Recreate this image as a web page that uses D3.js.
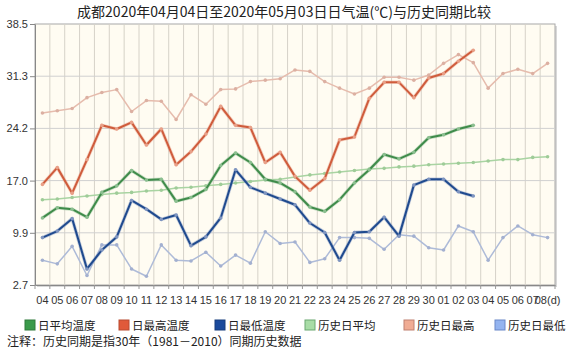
<!DOCTYPE html>
<html><head><meta charset="utf-8">
<script src="https://cdn.jsdelivr.net/npm/d3@7"></script>
<style>body{margin:0;background:#fff} svg{display:block}</style>
</head><body><svg id="c" width="584" height="358"></svg>
<script>
const categories = ["04-04","04-05","04-06","04-07","04-08","04-09","04-10","04-11","04-12","04-13","04-14","04-15","04-16","04-17","04-18","04-19","04-20","04-21","04-22","04-23","04-24","04-25","04-26","04-27","04-28","04-29","04-30","05-01","05-02","05-03","05-04","05-05","05-06","05-07","05-08"];
const tickLabels = ["04","05","06","07","08","09","10","11","12","13","14","15","16","17","18","19","20","21","22","23","24","25","26","27","28","29","30","01","02","03","04","05","06","07","08(d)"];
const yTicks = [2.7, 9.86, 17.02, 24.18, 31.34, 38.5];

const avgTemp = [11.9,13.3,13.1,12.0,15.4,16.3,18.4,17.1,17.2,14.2,14.7,15.8,19.1,20.8,19.5,17.2,16.7,15.5,13.4,12.8,14.4,16.7,18.5,20.6,20.0,20.9,22.9,23.3,24.1,24.6];
const maxTemp = [16.5,18.8,15.3,19.9,24.6,24.1,25.0,21.9,24.1,19.2,21.0,23.4,27.2,24.6,24.3,19.5,20.9,17.6,15.7,17.3,22.6,23.0,28.3,30.5,30.5,28.4,31.1,31.7,33.4,34.9];
const minTemp = [9.2,10.1,11.8,4.9,7.5,9.3,14.3,13.1,11.7,12.3,8.1,9.3,11.9,18.5,16.1,15.3,14.5,13.7,11.2,9.9,6.1,9.9,10.0,12.0,9.4,16.4,17.2,17.2,15.5,14.9];
const histAvg = [14.4,14.5,14.7,14.9,15.1,15.3,15.4,15.6,15.7,16.0,16.1,16.3,16.5,16.7,16.9,17.1,17.2,17.5,17.8,18.0,18.2,18.4,18.6,18.7,18.9,19.0,19.2,19.3,19.4,19.5,19.7,19.9,19.9,20.2,20.3];
const histMax = [26.3,26.6,26.9,28.4,29.1,29.5,26.5,28.0,27.9,25.4,28.8,27.5,29.5,29.6,30.6,30.8,31.0,32.2,32.0,30.6,29.7,28.9,29.7,31.2,31.2,30.8,31.5,33.1,34.3,33.2,29.7,31.7,32.3,31.7,33.1];
const histMin = [6.1,5.6,8.0,4.0,8.2,8.2,4.9,3.9,8.2,6.1,6.0,7.2,5.3,6.8,5.7,10.0,8.4,8.6,5.8,6.3,9.2,9.2,9.1,7.6,9.6,9.4,7.8,7.5,10.8,10.0,6.1,9.2,10.8,9.6,9.2];

const seriesNames = ["日平均温度","日最高温度","日最低温度","历史日平均","历史日最高","历史日最低"];
const seriesData = [avgTemp, maxTemp, minTemp, histAvg, histMax, histMin];
const lineColors = ["#3f8b4a","#cf5c3c","#1f4a8e","#a9d4a2","#e6bcad","#aebbd8"];
const markColors = ["#8cbf90","#e8a088","#7f95c0","#9fcc98","#dcb0a2","#a3b0d0"];
const swatchColors = ["#3a9a4a","#e05a3a","#1a4a9c","#a8dca6","#f0ac94","#94b4f0"];
const swatchBorders = ["#2f7a3a","#b84a30","#163c7c","#6aa870","#c08070","#6a88c8"];

const svg = d3.select("#c");
const L = 35, R = 555, T = 24, B = 285;
const x = d3.scaleBand().domain(categories).range([L, R]);
const y = d3.scaleLinear().domain([2.7, 38.5]).range([B, T]);
const cx = i => x(categories[i]) + x.bandwidth() / 2;

svg.append("rect").attr("width",584).attr("height",358).attr("fill","#fff");

// title
svg.append("text").attr("x",284).attr("y",17).attr("text-anchor","middle")
  .style("font-family","'Noto Sans CJK SC', sans-serif").style("font-size","14px").attr("fill","#222")
  .text("成都2020年04月04日至2020年05月03日日气温(℃)与历史同期比较");

// plot background + shadow
svg.append("rect").attr("x",L+2).attr("y",T+2).attr("width",R-L).attr("height",B-T).attr("fill","#d8d8d8");
svg.append("rect").attr("x",L).attr("y",T).attr("width",R-L).attr("height",B-T).attr("fill","#fffcf2").attr("stroke","#a8a8a8").attr("stroke-width",1);

// vertical grid at band boundaries
const bounds = categories.slice(1).map(c => x(c));
svg.append("g").selectAll("line").data(bounds).join("line")
  .attr("x1",d=>d).attr("x2",d=>d).attr("y1",T).attr("y2",B)
  .attr("stroke","#d6d2c8").attr("stroke-width",1);
// horizontal grid
svg.append("g").selectAll("line").data(yTicks.slice(1,-1)).join("line")
  .attr("x1",L).attr("x2",R).attr("y1",d=>y(d)).attr("y2",d=>y(d))
  .attr("stroke","#d0d0d0").attr("stroke-width",1);

// y axis
const yAxis = d3.axisLeft(y).tickValues(yTicks).tickFormat(d3.format(".1f")).tickSize(5).tickSizeOuter(0);
const gy = svg.append("g").attr("transform",`translate(${L},0)`).call(yAxis);
gy.select(".domain").attr("stroke","#888");
gy.selectAll(".tick line").attr("stroke","#888");
gy.selectAll("text").style("font-family","'Liberation Sans', Arial, sans-serif").style("font-size","11px").attr("fill","#333").attr("x",-7);

// x axis
const xAxis = d3.axisBottom(x).tickFormat((d,i)=>tickLabels[i]).tickSize(0).tickSizeOuter(0);
const gx = svg.append("g").attr("transform",`translate(0,${B})`).call(xAxis);
gx.select(".domain").attr("stroke","#888");
gx.selectAll("text").style("font-family","'Liberation Sans', Arial, sans-serif").style("font-size","11px").attr("fill","#333").attr("dy","0").attr("y",19);
svg.append("g").selectAll("line").data([L, ...bounds, R]).join("line")
  .attr("x1",d=>d).attr("x2",d=>d).attr("y1",B).attr("y2",B+4).attr("stroke","#999");

// lines
const line = d3.line().x((d,i)=>cx(i)).y(d=>y(d));
const order = [3,4,5,0,1,2];
order.forEach(k => {
  const hist = k >= 3;
  if (!hist) {
    svg.append("path").datum(seriesData[k]).attr("d",line).attr("fill","none")
      .attr("stroke",markColors[k]).attr("stroke-width",3.5).attr("stroke-opacity",0.45).attr("stroke-linejoin","round");
  }
  svg.append("path").datum(seriesData[k]).attr("d",line).attr("fill","none")
    .attr("stroke",lineColors[k]).attr("stroke-width",hist?1.5:2).attr("stroke-linejoin","round");
  svg.append("g").selectAll("circle").data(seriesData[k]).join("circle")
    .attr("cx",(d,i)=>cx(i)).attr("cy",d=>y(d)).attr("r",1.8).attr("fill",markColors[k]);
});

// legend
const legX = [25, 119, 215, 305, 404, 495];
const leg = svg.append("g");
seriesNames.forEach((n,i)=>{
  leg.append("rect").attr("x",legX[i]).attr("y",320).attr("width",10).attr("height",10)
    .attr("fill",swatchColors[i]).attr("stroke",swatchBorders[i]).attr("stroke-width",1);
  leg.append("text").attr("x",legX[i]+13).attr("y",329.5)
    .style("font-family","'Noto Sans CJK SC', sans-serif").style("font-size","11.5px").attr("fill","#222").text(n);
});

// footnote
svg.append("text").attr("x",7).attr("y",346)
  .style("font-family","'Noto Sans CJK SC', sans-serif").style("font-size","12px").attr("fill","#222")
  .text("注释：历史同期是指30年（1981－2010）同期历史数据");
</script></body></html>
